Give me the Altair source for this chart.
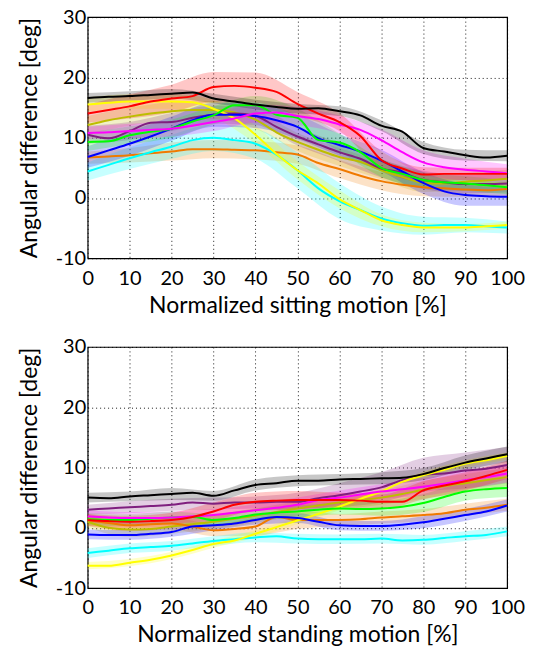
import altair as alt
import pandas as pd

# x positions (percent of motion)
X = [0, 5, 10, 15, 20, 25, 30, 35, 40, 45, 50, 55, 60, 65, 70, 75, 80, 85, 90, 95, 100]
XB = [0, 10, 20, 30, 40, 50, 60, 70, 80, 90, 100]

SERIES = ["olive", "orange", "purple", "cyan", "yellow", "blue", "green", "magenta", "red", "black"]
COLORS = ["#BDBD00", "#F07A00", "#7F1F7F", "#00FFFF", "#FFFF00", "#0000FF", "#00FF00", "#FF00FF", "#FF0000", "#000000"]

# --- sitting motion (top) ---
sit = {
    "black":   [16.6, 16.8, 16.9, 17.1, 17.3, 17.5, 16.5, 16.0, 15.5, 15.1, 14.8, 14.9, 14.4, 13.7, 12.0, 11.0, 8.3, 7.7, 7.1, 6.7, 7.0],
    "red":     [14.0, 14.6, 15.2, 16.0, 16.5, 16.9, 18.4, 18.6, 18.3, 17.6, 15.6, 14.0, 12.6, 10.3, 6.3, 4.9, 3.9, 4.0, 4.0, 4.0, 4.0],
    "magenta": [10.8, 10.9, 11.1, 11.3, 11.5, 12.0, 12.6, 13.2, 14.0, 14.2, 13.6, 13.1, 12.2, 11.3, 9.6, 7.6, 5.9, 5.1, 4.7, 4.4, 4.1],
    "green":   [9.3, 9.4, 10.4, 11.0, 11.5, 12.7, 13.7, 15.4, 15.4, 13.8, 13.3, 9.6, 9.2, 7.6, 5.0, 4.0, 3.0, 2.6, 2.4, 2.1, 1.8],
    "blue":    [6.8, 7.9, 9.0, 10.2, 11.5, 12.9, 13.8, 13.8, 13.6, 12.9, 11.8, 9.9, 8.8, 7.7, 6.2, 4.4, 2.5, 1.1, 0.5, 0.3, 0.2],
    "cyan":    [4.4, 5.5, 6.6, 7.6, 8.5, 9.6, 10.0, 9.6, 9.0, 7.2, 4.6, 1.6, -0.5, -2.0, -3.4, -4.2, -4.6, -4.5, -4.5, -4.7, -4.9],
    "yellow":  [15.5, 15.8, 16.0, 16.0, 16.0, 15.9, 14.8, 13.2, 10.5, 7.3, 4.6, 2.4, -0.2, -2.0, -3.7, -4.5, -4.9, -4.9, -4.9, -4.7, -4.5],
    "orange":  [6.7, 6.9, 7.1, 7.4, 7.7, 8.1, 8.1, 8.0, 7.9, 7.6, 7.2, 5.8, 4.8, 3.7, 2.8, 2.2, 1.8, 1.6, 1.4, 1.3, 1.5],
    "purple":  [10.5, 9.9, 11.1, 12.5, 12.6, 13.3, 13.8, 14.0, 13.6, 11.8, 10.2, 8.9, 7.6, 6.5, 4.9, 4.2, 3.0, 2.6, 2.3, 2.3, 2.4],
    "olive":   [12.1, 12.9, 13.5, 14.0, 14.4, 14.6, 14.6, 14.2, 13.0, 10.9, 9.3, 8.0, 6.8, 6.0, 4.6, 3.5, 2.5, 2.4, 2.7, 2.9, 3.2],
}
sit_sd = {
    "black":   [0.8, 0.8, 0.8, 0.8, 0.8, 0.8, 0.8, 0.9, 1.0, 0.9, 0.9],
    "red":     [1.5, 2.0, 2.3, 2.5, 2.5, 2.0, 1.5, 1.5, 1.2, 1.0, 1.0],
    "magenta": [1.0, 1.2, 1.3, 1.5, 1.5, 1.5, 1.5, 1.8, 2.0, 1.8, 1.5],
    "green":   [1.5, 1.5, 1.5, 1.5, 1.5, 1.5, 1.5, 1.5, 1.3, 1.2, 1.2],
    "blue":    [1.8, 2.0, 2.0, 2.0, 2.0, 2.0, 1.8, 1.8, 1.8, 1.8, 1.5],
    "cyan":    [1.5, 1.8, 2.0, 2.2, 2.5, 3.0, 3.0, 2.0, 1.5, 1.2, 1.0],
    "yellow":  [1.2, 1.2, 1.2, 1.5, 1.5, 1.5, 1.5, 1.0, 0.8, 0.6, 0.6],
    "orange":  [1.0, 1.2, 1.5, 1.5, 1.5, 1.5, 1.5, 1.5, 1.5, 1.2, 1.2],
    "purple":  [1.5, 1.5, 1.5, 1.5, 1.5, 1.5, 1.5, 1.5, 1.5, 1.5, 1.5],
    "olive":   [1.5, 1.5, 1.5, 1.5, 1.5, 1.5, 1.5, 1.5, 1.5, 1.5, 1.5],
}

# --- standing motion (bottom) ---
stand = {
    "black":   [5.0, 4.9, 5.2, 5.4, 5.6, 5.8, 5.3, 6.2, 7.1, 7.4, 7.8, 7.8, 8.0, 8.1, 8.2, 8.3, 8.9, 9.9, 10.8, 11.5, 12.2],
    "purple":  [3.0, 3.2, 3.4, 3.6, 3.8, 4.2, 4.0, 4.2, 4.2, 4.3, 4.3, 4.9, 5.4, 6.0, 6.7, 7.9, 8.8, 9.0, 9.5, 9.8, 10.4],
    "red":     [1.3, 1.1, 1.0, 1.1, 1.3, 1.8, 2.7, 3.8, 4.3, 4.5, 4.6, 4.6, 4.6, 4.5, 4.3, 4.3, 6.2, 7.0, 7.7, 8.6, 9.6],
    "magenta": [1.9, 1.7, 1.6, 1.6, 1.7, 1.9, 2.1, 2.5, 2.9, 3.3, 3.8, 4.6, 5.0, 5.5, 6.0, 6.4, 6.8, 7.3, 7.9, 8.4, 9.0],
    "green":   [1.4, 1.3, 1.3, 1.5, 1.7, 1.8, 1.3, 1.6, 2.2, 2.5, 2.7, 3.0, 3.2, 3.1, 3.2, 3.5, 4.1, 5.1, 6.0, 6.4, 6.6],
    "orange":  [1.3, 0.8, 0.4, 0.6, 0.7, 0.2, -0.4, -0.2, 0.2, 1.8, 1.3, 1.3, 1.3, 1.4, 1.7, 1.9, 2.1, 2.4, 3.0, 3.3, 3.8],
    "olive":   [1.0, 0.0, -0.3, -0.2, 0.2, 0.6, 1.0, 1.5, 2.0, 2.6, 3.2, 3.7, 4.2, 4.6, 5.0, 5.6, 6.3, 6.9, 7.4, 7.9, 8.4],
    "blue":    [-1.1, -1.2, -1.2, -1.0, -0.7, 0.2, 0.4, 0.7, 1.3, 1.8, 1.6, 1.0, 0.4, 0.3, 0.3, 0.5, 0.9, 1.5, 2.1, 2.7, 3.7],
    "cyan":    [-4.2, -3.8, -3.4, -3.2, -3.0, -2.6, -2.2, -1.9, -1.6, -1.4, -1.8, -1.9, -1.9, -1.9, -1.8, -2.1, -2.0, -1.7, -1.4, -1.2, -0.6],
    "yellow":  [-6.3, -6.3, -5.8, -5.3, -4.6, -3.7, -2.7, -2.1, -1.0, 0.1, 1.2, 2.3, 3.5, 4.8, 6.0, 7.6, 8.7, 9.6, 10.6, 11.2, 11.9],
}
stand_sd = {
    "black":   [0.8, 0.8, 1.0, 0.8, 0.9, 0.9, 0.9, 1.0, 1.0, 1.2, 1.3],
    "purple":  [0.8, 1.0, 1.0, 1.0, 1.0, 1.5, 2.0, 2.5, 2.8, 3.0, 3.0],
    "red":     [1.0, 1.0, 1.2, 1.5, 1.5, 1.5, 1.2, 1.2, 1.5, 1.5, 1.5],
    "magenta": [1.0, 1.0, 1.0, 1.0, 1.0, 1.2, 1.2, 1.2, 1.5, 1.5, 1.5],
    "green":   [1.0, 1.0, 1.0, 1.0, 1.0, 1.0, 1.0, 1.2, 1.5, 1.5, 1.5],
    "orange":  [1.0, 1.0, 1.0, 1.0, 1.5, 1.5, 1.0, 1.0, 1.0, 1.0, 1.0],
    "olive":   [1.0, 1.2, 1.2, 1.2, 1.2, 1.2, 1.2, 1.2, 1.5, 1.5, 1.5],
    "blue":    [0.8, 0.8, 0.8, 0.8, 0.8, 0.8, 0.8, 0.8, 1.0, 1.0, 1.0],
    "cyan":    [0.8, 0.8, 0.8, 0.8, 0.8, 0.8, 0.8, 0.8, 0.8, 0.8, 0.8],
    "yellow":  [0.6, 0.6, 0.6, 0.6, 0.6, 0.6, 0.6, 0.6, 0.6, 0.6, 0.6],
}

X_TICKS = [0, 10, 20, 30, 40, 50, 60, 70, 80, 90, 100]
Y_TICKS = [-10, -5, 0, 5, 10, 15, 20, 25, 30]

FONT = "Lato"
LFS = 20
TFS = 23


def build(means, sds, xtitle):
    rows = []
    for s in SERIES:
        for xv, yv in zip(X, means[s]):
            rows.append({"x": xv, "y": yv, "s": s})
    lines_df = pd.DataFrame(rows)
    brows = []
    for s in SERIES:
        for xv, sd in zip(XB, sds[s]):
            m = means[s][X.index(xv)]
            brows.append({"x": xv, "lo": m - sd, "hi": m + sd, "s": s})
    band_df = pd.DataFrame(brows)

    color = alt.Color("s:N", scale=alt.Scale(domain=SERIES, range=COLORS), legend=None)
    xenc = alt.X("x:Q", scale=alt.Scale(domain=[0, 100], nice=False),
                 axis=alt.Axis(values=X_TICKS, title=xtitle, grid=True,
                               gridColor="black", gridDash=[1, 3], gridOpacity=0.9,
                               ticks=False, domain=False, labelPadding=10, titlePadding=6,
                               labelOverlap=False, labelFlush=False,
                               labelExpr="'' + datum.value"))
    yaxis = alt.Axis(values=Y_TICKS, title="Angular difference [deg]", grid=True,
                     gridColor="black", gridDash=[1, 3], gridOpacity=0.9,
                     ticks=False, domain=False, labelPadding=2, titlePadding=14,
                     labelOverlap=False, labelExpr="'' + datum.value")

    band = alt.Chart(band_df).mark_area(opacity=0.22, interpolate="monotone").encode(
        x=xenc,
        y=alt.Y("lo:Q", scale=alt.Scale(domain=[-10, 30], nice=False), axis=yaxis),
        y2="hi:Q",
        color=color,
        detail="s:N",
    )
    line = alt.Chart(lines_df).mark_line(strokeWidth=2, interpolate="monotone").encode(
        x="x:Q",
        y="y:Q",
        color=color,
        order=alt.Order("s:N"),
    )
    return alt.layer(band, line).properties(width=421, height=242)


top = build(sit, sit_sd, "Normalized sitting motion [%]")
bottom = build(stand, stand_sd, "Normalized standing motion [%]")

chart = alt.vconcat(top, bottom, spacing=18).properties(
    padding={"left": 17, "top": 5, "right": 10, "bottom": 5},
    background="white",
).configure_view(stroke="black", strokeWidth=1.2).configure_axis(
    labelFont=FONT, titleFont=FONT, labelFontSize=LFS, titleFontSize=TFS,
    labelColor="black", titleColor="black", titleFontWeight="normal",
).configure_concat(spacing=18)

chart.save("out.html", embed_options={"renderer": "svg", "actions": False})
